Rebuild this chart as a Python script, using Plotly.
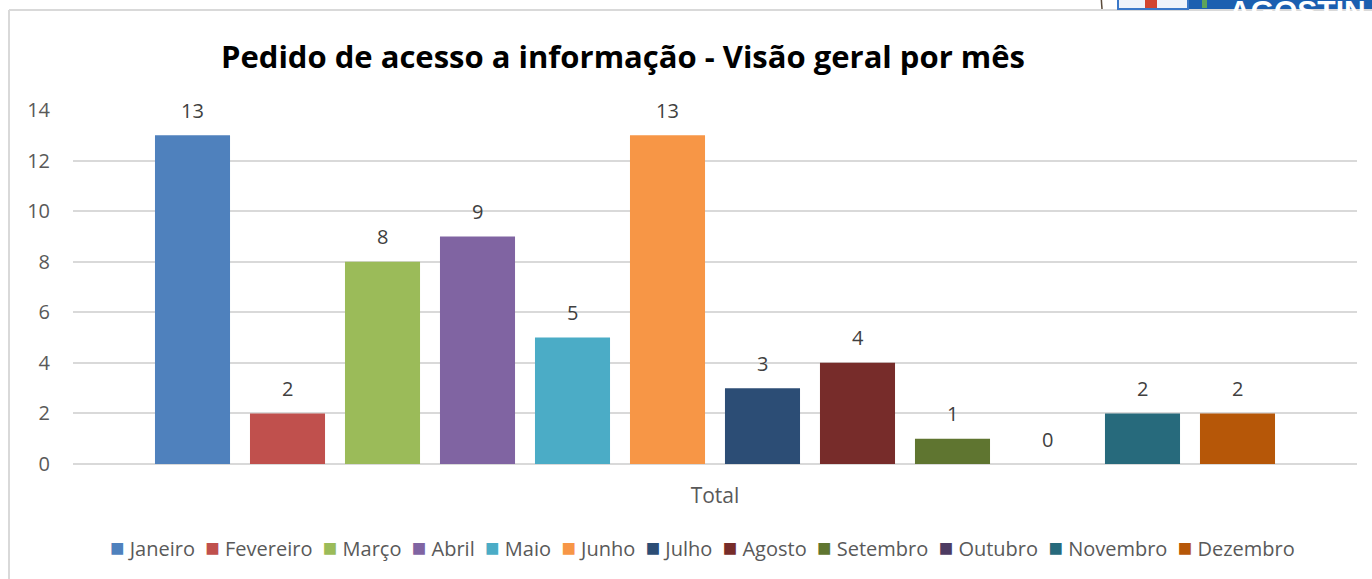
import plotly.graph_objects as go

# ---- data ----
months = ["Janeiro", "Fevereiro", "Março", "Abril", "Maio", "Junho",
          "Julho", "Agosto", "Setembro", "Outubro", "Novembro", "Dezembro"]
values = [13, 2, 8, 9, 5, 13, 3, 4, 1, 0, 2, 2]
colors = ["#4F81BD", "#C0504D", "#9BBB59", "#8064A2", "#4BACC6", "#F79646",
          "#2C4D75", "#772C2A", "#5F7530", "#4D3B62", "#276A7C", "#B65708"]
category = "Total"
y_ticks = [0, 2, 4, 6, 8, 10, 12, 14]
title_text = "Pedido de acesso a informação - Visão geral por mês"

# ---- layout helpers (pixel -> paper) ----
W, H = 1372, 579
ML, MR, MT, MB = 73, 15, 110, 115
PW, PH = W - ML - MR, H - MT - MB


def px(x):
    return (x - ML) / PW


def py(y):
    return (H - MB - y) / PH


FONT = "Open Sans"
GRAY = "#595959"

fig = go.Figure()
for i, (m, v, c) in enumerate(zip(months, values, colors)):
    fig.add_trace(go.Bar(x=[i], y=[v], name=m, width=0.79,
                         marker=dict(color=c, line=dict(width=0)),
                         showlegend=False, hovertemplate=m + ": %{y}<extra></extra>"))
    fig.add_annotation(x=i, y=v, xref="x", yref="y", text=str(v), showarrow=False,
                       yanchor="middle", yshift=25,
                       font=dict(family=FONT, size=20, color="#404040"))

# legend as a single centred line of real text
legend_items = [f"<span style='color:{c};font-size:24px'>■</span>\u00a0{m}" for m, c in zip(months, colors)]
fig.add_annotation(x=px(702), y=py(546), xref="paper", yref="paper",
                   text="\u00a0\u00a0".join(legend_items), showarrow=False,
                   xanchor="center", yanchor="middle",
                   font=dict(family=FONT, size=20, color=GRAY))

n = len(months)
fig.update_layout(
    width=W, height=H,
    margin=dict(l=ML, r=MR, t=MT, b=MB, pad=0),
    paper_bgcolor="white", plot_bgcolor="white",
    barmode="overlay",
    showlegend=False,
    title=dict(text="<b>" + title_text + "</b>", x=px(623), xref="paper", xanchor="center",
               y=1 - 57 / H, yref="container", yanchor="middle",
               font=dict(family=FONT, size=31, color="black")),
    xaxis=dict(range=[-1.258, n - 1 + 1.258], tickvals=[(n - 1) / 2], ticktext=[category],
               showgrid=False, zeroline=False, showline=False, ticks="",
               ticklabelstandoff=17,
               tickfont=dict(family=FONT, size=21, color=GRAY)),
    yaxis=dict(range=[0, 14], tickvals=y_ticks, showgrid=True, gridcolor="#D9D9D9",
               gridwidth=1.5, zeroline=True, zerolinecolor="#D9D9D9", zerolinewidth=1.5,
               showline=False, ticks="", ticklabelstandoff=22,
               tickfont=dict(family=FONT, size=20, color=GRAY)),
)

shapes = []
# chart frame (left and top edges visible)
shapes.append(dict(type="line", xref="paper", yref="paper", x0=px(9), x1=px(1380),
                   y0=py(10), y1=py(10), line=dict(color="#D9D9D9", width=2)))
shapes.append(dict(type="line", xref="paper", yref="paper", x0=px(9), x1=px(9),
                   y0=py(10), y1=py(590), line=dict(color="#D9D9D9", width=2)))
# cropped logo at top right
shapes.append(dict(type="rect", xref="paper", yref="paper", x0=px(1188), x1=px(1380),
                   y0=py(-5), y1=py(9), fillcolor="#1B5FB0", line=dict(width=0)))
shapes.append(dict(type="rect", xref="paper", yref="paper", x0=px(1118), x1=px(1188),
                   y0=py(-5), y1=py(9), fillcolor="#EEF3FA", line=dict(color="#3A78C8", width=2)))
shapes.append(dict(type="rect", xref="paper", yref="paper", x0=px(1145), x1=px(1157),
                   y0=py(-5), y1=py(8), fillcolor="#D2452F", line=dict(width=0)))
shapes.append(dict(type="rect", xref="paper", yref="paper", x0=px(1202), x1=px(1207),
                   y0=py(-5), y1=py(8), fillcolor="#5DA35A", line=dict(width=0)))
shapes.append(dict(type="line", xref="paper", yref="paper", x0=px(1101), x1=px(1102),
                   y0=py(-5), y1=py(9), line=dict(color="#5A4A3A", width=1.5)))
fig.update_layout(shapes=shapes)
fig.add_annotation(x=px(1227), y=py(-8), xref="paper", yref="paper", text="<b>AGOSTIN</b>",
                   showarrow=False, xanchor="left", yanchor="top",
                   font=dict(family="Liberation Sans", size=30, color="white"))

fig.write_html("out.html")
